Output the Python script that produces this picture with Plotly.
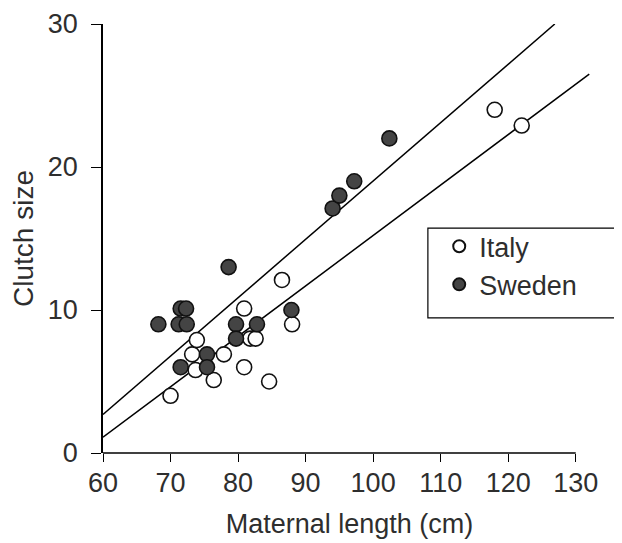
import plotly.graph_objects as go

# Data
italy_length = [70.0, 73.2, 73.9, 73.7, 76.4, 77.9, 80.9, 81.8, 82.6, 80.9, 84.6, 86.5, 88.0, 118.0, 122.0]
italy_clutch = [4.0, 6.9, 7.9, 5.8, 5.1, 6.9, 10.1, 8.0, 8.0, 6.0, 5.0, 12.1, 9.0, 24.0, 22.9]

sweden_length = [68.2, 71.5, 72.3, 71.2, 72.4, 71.5, 75.4, 75.4, 78.6, 79.7, 79.7, 82.8, 87.9, 94.0, 95.0, 97.2, 102.4]
sweden_clutch = [9.0, 10.1, 10.1, 9.0, 9.0, 6.0, 6.9, 6.0, 13.0, 9.0, 8.0, 9.0, 10.0, 17.1, 18.0, 19.0, 22.0]

# Fitted regression lines (endpoints)
italy_fit_x = [60, 132]
italy_fit_y = [1.1, 26.5]
sweden_fit_x = [60, 126.9]
sweden_fit_y = [2.7, 30.0]

x_ticks = [60, 70, 80, 90, 100, 110, 120, 130]
y_ticks = [0, 10, 20, 30]

FONT = "Liberation Sans, Arial, Helvetica, sans-serif"
TXT = "#2e2e2e"

fig = go.Figure()

fig.add_trace(go.Scatter(x=sweden_fit_x, y=sweden_fit_y, mode="lines",
                         line=dict(color="black", width=1.5), showlegend=False, hoverinfo="skip"))
fig.add_trace(go.Scatter(x=italy_fit_x, y=italy_fit_y, mode="lines",
                         line=dict(color="black", width=1.5), showlegend=False, hoverinfo="skip"))

fig.add_trace(go.Scatter(x=italy_length, y=italy_clutch, mode="markers", name="Italy",
                         legendgroup="it",
                         marker=dict(size=15, color="white", line=dict(color="#111", width=1.6))))
fig.add_trace(go.Scatter(x=sweden_length, y=sweden_clutch, mode="markers", name="Sweden",
                         legendgroup="sw",
                         marker=dict(size=15, color="#444444", line=dict(color="#111", width=1.6))))

# x axis baseline spanning the tick range
fig.add_shape(type="line", xref="x", yref="paper", x0=x_ticks[0], x1=x_ticks[-1], y0=0, y1=0,
              line=dict(color="black", width=1.5))
# legend frame
fig.add_shape(type="rect", xref="paper", yref="paper", x0=0.659, x1=1.062, y0=0.315, y1=0.524,
              line=dict(color="black", width=1.2), fillcolor="rgba(0,0,0,0)", layer="above")

fig.update_layout(
    width=614, height=535,
    margin=dict(l=95, r=26, t=16, b=90, autoexpand=False),
    paper_bgcolor="white", plot_bgcolor="white",
    font=dict(family=FONT, size=27, color=TXT),
    xaxis=dict(range=[60, 133], tickvals=x_ticks, ticktext=[str(v) for v in x_ticks],
               showline=False, showgrid=False, zeroline=False, automargin=False,
               ticks="outside", ticklen=8, tickwidth=1.2, tickcolor="black",
               tickfont=dict(size=27, color=TXT), ticklabelstandoff=-2,
               ticklabeloverflow="allow",
               title=dict(text="Maternal length (cm)", font=dict(size=27, color=TXT), standoff=16)),
    yaxis=dict(range=[0, 30], tickvals=y_ticks, ticktext=[str(v) for v in y_ticks],
               showline=True, linecolor="black", linewidth=1.5, automargin=False,
               showgrid=False, zeroline=False,
               ticks="outside", ticklen=10, tickwidth=1.2, tickcolor="black",
               tickfont=dict(size=27, color=TXT), ticklabelstandoff=8,
               ticklabeloverflow="allow",
               title=dict(text="Clutch size", font=dict(size=28, color=TXT), standoff=10)),
    legend=dict(x=0.682, y=0.538, xanchor="left", yanchor="top",
                borderwidth=0, bgcolor="rgba(0,0,0,0)",
                font=dict(size=27, color=TXT),
                itemsizing="constant", traceorder="grouped", tracegroupgap=0),
)

fig.write_html("out.html")
